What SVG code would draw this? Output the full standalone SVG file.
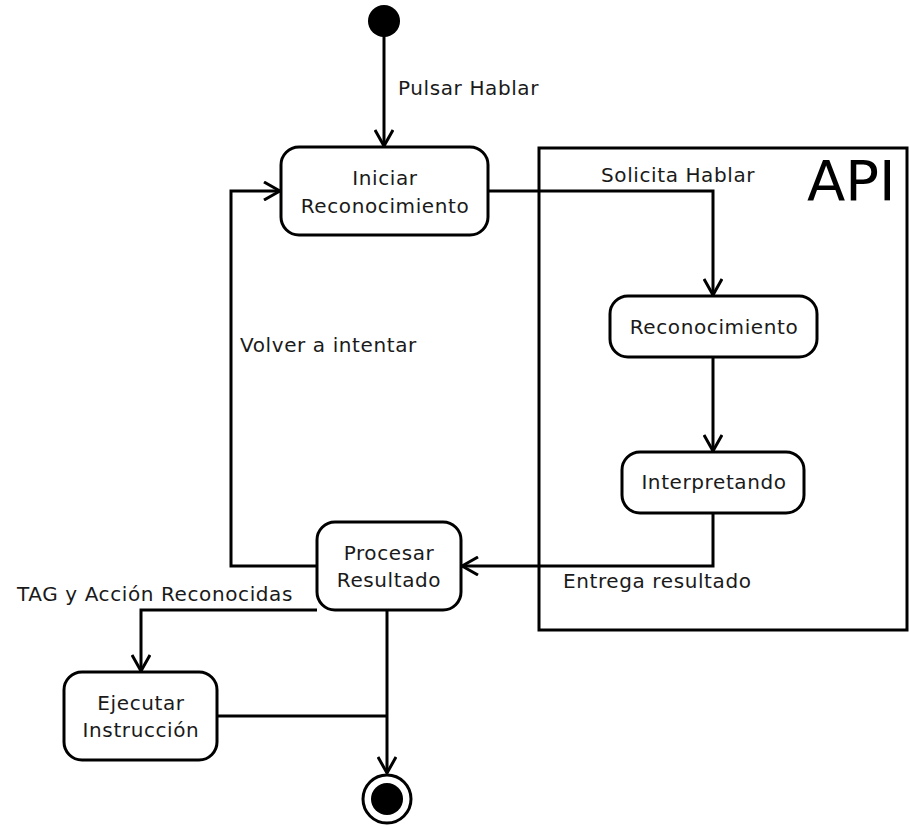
<svg xmlns="http://www.w3.org/2000/svg" width="909" height="827" viewBox="0 0 909 827">
  <style>
    .node { fill: #ffffff; stroke: #000000; stroke-width: 3; }
    .edge { fill: none; stroke: #000000; stroke-width: 3; }
    text { font-family: "DejaVu Sans", "Liberation Sans", sans-serif; font-size: 20px; letter-spacing: 0.6px; fill: #1a1a1a; }
    .c { text-anchor: middle; }
  </style>
  <defs>
    <marker id="arrow" viewBox="0 0 20 20" refX="18" refY="10" markerWidth="20" markerHeight="20" markerUnits="userSpaceOnUse" orient="auto">
      <path d="M2,1 L18,10 L2,19" fill="none" stroke="#000000" stroke-width="3"/>
    </marker>
  </defs>

  <rect width="909" height="827" fill="#ffffff"/>

  <!-- API partition -->
  <g id="api">
    <rect x="539" y="148" width="368" height="482" fill="none" stroke="#000000" stroke-width="3"/>
    <text x="807" y="200" style="font-size:56px;letter-spacing:0;fill:#000">API</text>
  </g>

  <!-- connectors -->
  <g id="connectors">
    <path class="edge" d="M384,36 V146" marker-end="url(#arrow)"/>
    <path class="edge" d="M488,191 H713 V295" marker-end="url(#arrow)"/>
    <path class="edge" d="M713,357 V451" marker-end="url(#arrow)"/>
    <path class="edge" d="M713,513 V566 H462" marker-end="url(#arrow)"/>
    <path class="edge" d="M317,566 H231 V191 H280" marker-end="url(#arrow)"/>
    <path class="edge" d="M317,610 H141 V671" marker-end="url(#arrow)"/>
    <path class="edge" d="M387,610 V773" marker-end="url(#arrow)"/>
    <path class="edge" d="M217,716 H387"/>
    <text x="398" y="95">Pulsar Hablar</text>
    <text x="601" y="182">Solicita Hablar</text>
    <text x="240" y="352">Volver a intentar</text>
    <text x="563" y="588">Entrega resultado</text>
    <text x="17" y="601">TAG y Acción Reconocidas</text>
  </g>

  <g id="start">
    <circle cx="384" cy="21" r="16" fill="#000000"/>
  </g>

  <g id="iniciar">
    <rect class="node" x="281" y="147" width="207" height="88" rx="18"/>
    <text class="c" x="385" y="185">Iniciar</text>
    <text class="c" x="385" y="213">Reconocimiento</text>
  </g>

  <g id="reconocimiento">
    <rect class="node" x="610" y="296" width="207" height="61" rx="18"/>
    <text class="c" x="714" y="334">Reconocimiento</text>
  </g>

  <g id="interpretando">
    <rect class="node" x="622" y="452" width="182" height="61" rx="18"/>
    <text class="c" x="714" y="489">Interpretando</text>
  </g>

  <g id="procesar">
    <rect class="node" x="317" y="522" width="144" height="88" rx="18"/>
    <text class="c" x="389" y="560">Procesar</text>
    <text class="c" x="389" y="587">Resultado</text>
  </g>

  <g id="ejecutar">
    <rect class="node" x="64" y="672" width="153" height="88" rx="18"/>
    <text class="c" x="141" y="710">Ejecutar</text>
    <text class="c" x="141" y="737">Instrucción</text>
  </g>

  <g id="end">
    <circle cx="387" cy="799" r="24" fill="#ffffff" stroke="#000000" stroke-width="3"/>
    <circle cx="387" cy="799" r="16" fill="#000000"/>
  </g>
</svg>
